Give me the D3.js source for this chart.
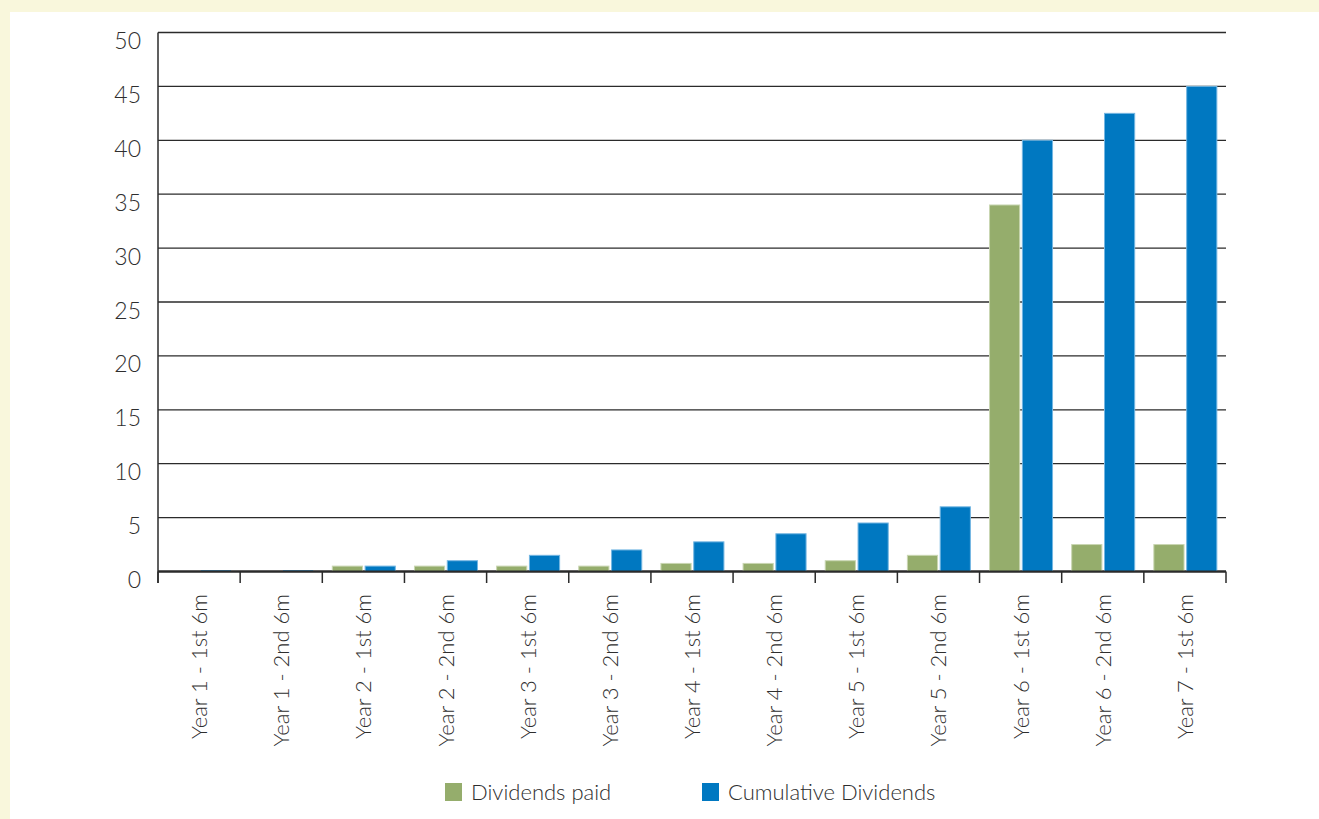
<!DOCTYPE html>
<html>
<head>
<meta charset="utf-8">
<script src="https://cdn.jsdelivr.net/npm/d3@7/dist/d3.min.js"></script>
<style>
  html, body { margin: 0; padding: 0; background: #f9f7dc; }
  svg { display: block; }
  text { font-family: "Lato", "Open Sans", sans-serif; font-weight: 300; fill: #2e2e2e; }
</style>
</head>
<body>
<svg id="chart" width="1319" height="819"></svg>
<script>
const categories = [
  "Year 1 - 1st 6m", "Year 1 - 2nd 6m", "Year 2 - 1st 6m", "Year 2 - 2nd 6m",
  "Year 3 - 1st 6m", "Year 3 - 2nd 6m", "Year 4 - 1st 6m", "Year 4 - 2nd 6m",
  "Year 5 - 1st 6m", "Year 5 - 2nd 6m", "Year 6 - 1st 6m", "Year 6 - 2nd 6m",
  "Year 7 - 1st 6m"
];
const dividendsPaid = [0, 0, 0.5, 0.5, 0.5, 0.5, 0.75, 0.75, 1, 1.5, 34, 2.5, 2.5];
const cumulativeDividends = [0.1, 0.1, 0.5, 1, 1.5, 2, 2.75, 3.5, 4.5, 6, 40, 42.5, 45];
const seriesNames = ["Dividends paid", "Cumulative Dividends"];
const seriesColors = ["#95ad6c", "#0078c1"];
const seriesStrokes = ["#c9d6b2", "#74b6e2"];
const yTicks = [0, 5, 10, 15, 20, 25, 30, 35, 40, 45, 50];

const svg = d3.select("#chart");
svg.append("rect").attr("x", 10).attr("y", 12).attr("width", 1309).attr("height", 807).attr("fill", "#fff");

const x = d3.scaleBand().domain(categories).range([158, 1226]).paddingInner(0).paddingOuter(0);
const xs = d3.scaleBand().domain(seriesNames).range([10, 73]).paddingInner(0.08);
const y = d3.scaleLinear().domain([0, 50]).range([571.5, 32.5]);

// gridlines
svg.append("g").selectAll("line").data(yTicks).join("line")
  .attr("x1", 158).attr("x2", 1226)
  .attr("y1", d => y(d)).attr("y2", d => y(d))
  .attr("stroke", "#2b2b2b").attr("stroke-width", d => d === 0 ? 2 : 1.3);

// y labels
svg.append("g").selectAll("text").data(yTicks).join("text")
  .attr("x", 141).attr("y", d => y(d) + 16.5)
  .attr("text-anchor", "end").attr("font-size", 23)
  .text(d => d);

// bars
const rows = categories.map((c, i) => ({ cat: c, vals: [dividendsPaid[i], cumulativeDividends[i]] }));
const groups = svg.append("g").selectAll("g").data(rows).join("g")
  .attr("transform", d => `translate(${x(d.cat)},0)`);
groups.selectAll("rect").data(d => d.vals.map((v, k) => ({ v, k }))).join("rect")
  .attr("x", d => xs(seriesNames[d.k]))
  .attr("width", xs.bandwidth())
  .attr("y", d => y(d.v))
  .attr("height", d => y(0) - y(d.v))
  .attr("fill", d => seriesColors[d.k])
  .attr("stroke", d => d.v > 0.2 ? seriesStrokes[d.k] : "none")
  .attr("stroke-width", 1);

// baseline over bars
svg.append("line").attr("x1", 158).attr("x2", 1226).attr("y1", y(0)).attr("y2", y(0))
  .attr("stroke", "#2b2b2b").attr("stroke-width", 2);

// y axis line
svg.append("line").attr("x1", 158).attr("x2", 158).attr("y1", y(50)).attr("y2", 583)
  .attr("stroke", "#2b2b2b").attr("stroke-width", 1.5);

// x ticks at band boundaries
const tickPos = categories.map(c => x(c)).concat([x.range()[1]]);
svg.append("g").selectAll("line").data(tickPos).join("line")
  .attr("x1", d => d).attr("x2", d => d).attr("y1", y(0)).attr("y2", 583)
  .attr("stroke", "#2b2b2b").attr("stroke-width", 1.5);

// x labels
svg.append("g").selectAll("text").data(categories).join("text")
  .attr("transform", d => `translate(${x(d) + x.bandwidth() / 2 + 8},594) rotate(-90)`)
  .attr("text-anchor", "end").attr("font-size", 22)
  .text(d => d);

// legend
const legendX = [445, 702];
const lg = svg.append("g").selectAll("g").data(seriesNames).join("g")
  .attr("transform", (d, i) => `translate(${legendX[i]},783)`);
lg.append("rect").attr("width", 17).attr("height", 18)
  .attr("fill", (d, i) => seriesColors[i]);
lg.append("text").attr("x", 26).attr("y", 17).attr("font-size", 22).text(d => d);
</script>
</body>
</html>
